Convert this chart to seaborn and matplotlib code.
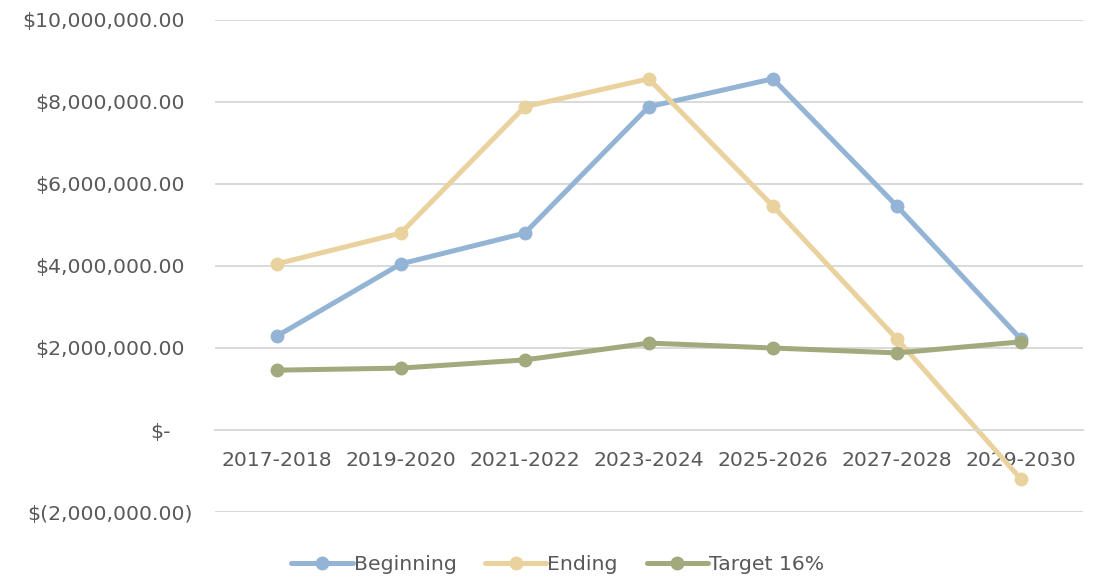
import pandas as pd
import matplotlib
matplotlib.use("Agg")
import matplotlib.pyplot as plt
import matplotlib.transforms as mtransforms
import seaborn as sns
from matplotlib.ticker import FuncFormatter

# Values
periods = ["2017-2018", "2019-2020", "2021-2022", "2023-2024",
           "2025-2026", "2027-2028", "2029-2030"]
beginning = [2290000, 4050000, 4800000, 7880000, 8560000, 5460000, 2220000]
ending = [4050000, 4800000, 7880000, 8560000, 5460000, 2220000, -1190000]
target = [1460000, 1510000, 1710000, 2120000, 2000000, 1880000, 2150000]

series_names = ["Beginning", "Ending", "Target 16%"]
colors = ["#93B4D5", "#E9D29D", "#A2A97C"]


def accounting(v, pos=None):
    """Excel accounting style currency labels."""
    if abs(v) < 0.5:
        return "$-"
    if v < 0:
        return "$({:,.2f})".format(-v)
    return "${:,.2f}".format(v)


def build_frame():
    rows = []
    for name, values in zip(series_names, [beginning, ending, target]):
        for i, (p, v) in enumerate(zip(periods, values)):
            rows.append({"Period": p, "Idx": i, "Value": v, "Series": name})
    return pd.DataFrame(rows)


def main():
    sns.set_theme(style="white")
    plt.rcParams["font.family"] = ["DejaVu Sans"]
    text_color = "#595959"
    grid_color = "#D9D9D9"

    df = build_frame()

    fig = plt.figure(figsize=(10.96, 5.8), dpi=100)
    ax = fig.add_axes([0.196, 0.117, 0.792, 0.849])

    sns.lineplot(data=df, x="Idx", y="Value", hue="Series",
                 hue_order=series_names, palette=colors,
                 marker="o", markersize=10, markeredgewidth=0,
                 linewidth=3.6, ax=ax, legend=True)

    ax.set_xlim(-0.5, len(periods) - 0.5)
    ax.set_ylim(-2000000, 10000000)
    ax.set_yticks(range(-2000000, 10000001, 2000000))
    ax.yaxis.set_major_formatter(FuncFormatter(accounting))
    ax.set_xticks(range(len(periods)))
    ax.set_xticklabels(periods)

    ax.grid(axis="y", color=grid_color, linewidth=1.4)
    ax.set_axisbelow(True)
    for side in ["top", "right", "left"]:
        ax.spines[side].set_visible(False)
    ax.spines["bottom"].set_position(("data", 0))
    ax.spines["bottom"].set_color(grid_color)
    ax.spines["bottom"].set_linewidth(1.4)

    ax.tick_params(axis="both", length=0, labelsize=14.7, colors=text_color)
    ax.tick_params(axis="x", pad=15)
    ax.tick_params(axis="y", pad=22)
    ax.set_xlabel("")
    ax.set_ylabel("")

    handles, labels = ax.get_legend_handles_labels()
    ax.legend(handles, labels, loc="upper center", bbox_to_anchor=(0.395, -0.05),
              ncol=3, frameon=False, fontsize=14.7, labelcolor=text_color,
              handlelength=3.0, handletextpad=0.05, columnspacing=1.4)

    # Excel accounting alignment: "$-" sits left, negatives stick out right
    fig.canvas.draw()
    for tick in ax.yaxis.get_major_ticks():
        txt = tick.label1.get_text()
        dx = 0
        if txt == "$-":
            dx = -14
        elif txt.startswith("$("):
            dx = 8
        if dx:
            shift = mtransforms.ScaledTranslation(dx / 100, 0, fig.dpi_scale_trans)
            tick.label1.set_transform(tick.label1.get_transform() + shift)

    fig.savefig("out.png", dpi=100)


if __name__ == "__main__":
    main()
